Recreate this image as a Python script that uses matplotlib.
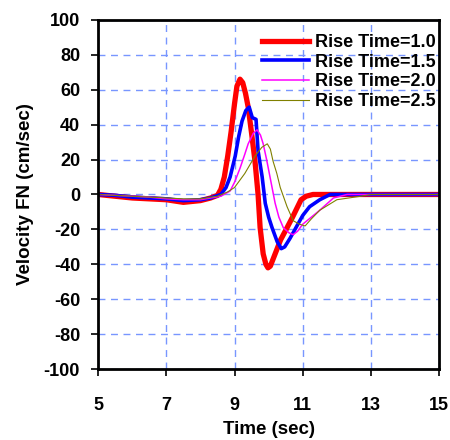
import matplotlib
matplotlib.use("Agg")
import matplotlib.pyplot as plt

plt.rcParams['font.family'] = ['Liberation Sans', 'DejaVu Sans']
plt.rcParams['font.weight'] = 'bold'
plt.rcParams['axes.unicode_minus'] = False

# values (time in sec, velocity in cm/sec)
t_10 = [5.0, 5.5, 6.0, 6.5, 7.0, 7.5, 8.0, 8.3, 8.5, 8.6, 8.7, 8.8, 8.9, 9.0,
        9.07, 9.16, 9.24, 9.32, 9.4, 9.5, 9.6, 9.69, 9.75, 9.84, 9.92, 9.98,
        10.05, 10.19, 10.35, 10.54, 10.7, 10.85, 10.95, 11.1, 11.3, 12.0, 15.0]
v_10 = [0, -1, -2, -2.5, -3, -4.5, -3.5, -2, -0.5, 3, 10, 22, 36, 52,
        62, 66, 64, 58, 50, 35, 19, 0, -19, -34, -40, -42,
        -41, -34, -26, -19, -13, -7, -3, -1, 0, 0, 0]

t_15 = [5.0, 5.5, 6.0, 6.5, 7.0, 7.5, 8.0, 8.3, 8.6, 8.75, 8.87, 9.02, 9.12,
        9.22, 9.33, 9.43, 9.52, 9.63, 9.69, 9.81, 9.9, 10.0, 10.1, 10.25,
        10.37, 10.47, 10.63, 10.8, 11.0, 11.2, 11.5, 11.8, 15.0]
v_15 = [0, -0.5, -1.5, -2, -2.5, -3.5, -3, -2, 0, 4, 10, 22, 33,
        42, 48, 50, 44, 43, 25, 10, -5, -13, -19, -27,
        -31, -30, -25, -19, -12, -7, -3, 0, 0]

t_20 = [5.0, 5.5, 6.0, 6.5, 7.0, 7.5, 8.0, 8.3, 8.6, 8.87, 9.0, 9.16, 9.3,
        9.4, 9.55, 9.66, 9.76, 9.84, 9.94, 10.04, 10.19, 10.3, 10.43, 10.6,
        10.72, 10.85, 11.0, 11.25, 11.5, 11.9, 12.3, 15.0]
v_20 = [0, -0.5, -1, -1.5, -2.5, -3, -3, -2, -1, 2, 7, 15, 23,
        29, 35, 37, 34, 29, 20, 10, -5, -13, -19, -22,
        -23, -21, -17, -13, -9, -2, 0, 0]

t_25 = [5.0, 5.5, 6.0, 6.5, 7.0, 7.5, 8.0, 8.5, 8.8, 9.0, 9.3, 9.6, 9.8,
        9.96, 10.05, 10.13, 10.24, 10.34, 10.54, 10.72, 10.9, 11.07, 11.25,
        11.5, 12.0, 12.7, 13.0, 15.0]
v_25 = [0, -0.5, -1, -1.5, -2, -2.5, -2.5, -1, 1.5, 4, 12, 22, 27,
        29, 26, 19, 12, 4, -7, -15, -17, -18, -14,
        -9, -3, -1, 0, 0]

series = [
    ("Rise Time=1.0", t_10, v_10, "#ff0000", 3.8),
    ("Rise Time=1.5", t_15, v_15, "#0000ff", 2.6),
    ("Rise Time=2.0", t_20, v_20, "#ff00ff", 1.1),
    ("Rise Time=2.5", t_25, v_25, "#808000", 0.8),
]

fig = plt.figure(figsize=(4.5, 4.4), dpi=100)
ax = fig.add_axes([0.218, 0.161, 0.758, 0.794])

for label, t, v, color, lw in series:
    ax.plot(t, v, color=color, lw=lw, label=label)

ax.set_xlim(5, 15)
ax.set_ylim(-100, 100)
ax.set_xticks(range(5, 16, 2))
ax.set_yticks(range(-100, 101, 20))
ax.grid(True, color="#7896ff", linestyle=(0, (5, 4)), linewidth=1.0)
ax.set_axisbelow(True)
for sp in ax.spines.values():
    sp.set_linewidth(2.0)
ax.tick_params(labelsize=13, width=1.2, length=5, direction="out")
for lab in ax.get_xticklabels() + ax.get_yticklabels():
    lab.set_fontweight("bold")
ax.tick_params(axis="x", pad=15)
ax.tick_params(axis="y", pad=8)

ax.set_xlabel("Time (sec)", fontsize=13.5, fontweight="bold", labelpad=5)
ax.set_ylabel("Velocity FN (cm/sec)", fontsize=13.5, fontweight="bold", labelpad=7)

leg = ax.legend(loc="upper right", bbox_to_anchor=(1.0, 0.97), frameon=False,
                fontsize=13, handlelength=2.6, handletextpad=0.3,
                labelspacing=0.15, borderaxespad=0.1, borderpad=0.1)
for txt in leg.get_texts():
    txt.set_fontweight("bold")

fig.savefig("out.png", dpi=100)
